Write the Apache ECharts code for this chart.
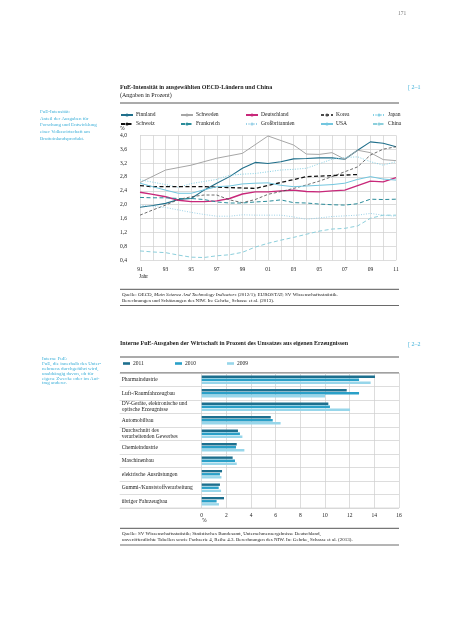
<!DOCTYPE html>
<html><head><meta charset="utf-8">
<script src="https://cdn.jsdelivr.net/npm/echarts@6/dist/echarts.min.js"></script>
<style>html,body{margin:0;padding:0;background:#fff}#c{width:453px;height:640px}</style>
</head><body><div id="c"></div>
<script>
const years = [1991,1992,1993,1994,1995,1996,1997,1998,1999,2000,2001,2002,2003,2004,2005,2006,2007,2008,2009,2010,2011];
const finnland = [1.93,1.98,2.04,2.15,2.18,2.42,2.62,2.81,3.05,3.22,3.19,3.24,3.32,3.33,3.35,3.35,3.31,3.57,3.81,3.77,3.67];
const schweden = [2.64,null,3.0,null,3.14,null,3.34,null,3.48,null,3.98,null,3.72,3.46,3.45,3.50,3.31,3.57,3.50,3.30,3.27];
const deutschland = [2.36,2.30,2.23,2.13,2.09,2.09,2.11,2.18,2.31,2.37,2.37,2.40,2.42,2.38,2.37,2.40,2.42,2.55,2.68,2.66,2.78];
const korea = [1.70,1.85,1.99,2.15,2.23,2.28,2.28,2.14,2.06,2.15,2.30,2.38,2.47,2.57,2.68,2.81,2.95,3.09,3.43,3.60,3.67];
const japan = [2.72,2.65,2.58,2.50,2.61,2.67,2.73,2.85,2.88,2.90,2.95,3.00,3.02,3.05,3.18,3.31,3.36,3.38,3.24,3.14,3.24];
const schweiz = [2.55,2.52,null,null,null,2.52,null,null,null,2.47,null,null,null,2.81,null,null,null,2.87,null,null,null];
const frankreich = [2.21,2.20,2.20,2.18,2.18,2.15,2.08,2.05,2.05,2.08,2.10,2.14,2.06,2.05,2.02,2.00,1.99,2.03,2.16,2.15,2.16];
const grossbritannien = [1.99,1.95,1.92,1.85,1.78,1.72,1.67,1.67,1.71,1.70,1.70,1.70,1.65,1.58,1.62,1.66,1.68,1.70,1.75,1.70,1.67];
const usa = [2.62,2.52,2.42,2.33,2.33,2.43,2.52,2.54,2.60,2.62,2.63,2.56,2.52,2.54,2.56,2.58,2.62,2.73,2.81,2.74,2.71];
const china = [0.67,0.64,0.62,0.55,0.49,0.48,0.53,0.56,0.63,0.78,0.89,0.98,1.06,1.15,1.24,1.30,1.32,1.39,1.61,1.70,1.70];

const categories = ['Pharmaindustrie','Luft-/Raumfahrzeugbau','DV-Geräte, elektronische und\noptische Erzeugnisse','Automobilbau','Durchschnitt des\nverarbeitenden Gewerbes','Chemieindustrie','Maschinenbau','elektrische Ausrüstungen','Gummi-/Kunststoffverarbeitung','übriger Fahrzeugbau'];
const v2011 = [14.05,11.76,10.27,5.6,2.94,2.84,2.51,1.65,1.48,1.81];
const v2010 = [12.76,12.76,10.4,5.76,3.1,2.78,2.7,1.48,1.38,1.21];
const v2009 = [13.7,10.0,12.03,6.4,3.3,3.46,2.84,1.6,1.57,1.4];

const FONT = '"Liberation Serif","Times New Roman",serif';
const pair = arr => years.map((y,i)=>[y,arr[i]]);

const lineDefs = [
  ['Finnland', finnland, '#1f6f8b', 'solid', 1.1],
  ['Schweden', schweden, '#a6a6a6', 'solid', 1.0],
  ['Deutschland', deutschland, '#c8287a', 'solid', 1.4],
  ['Korea', korea, '#4a4a4a', [3,2], 0.8],
  ['Japan', japan, '#86d0e4', [1,1.5], 1.0],
  ['Schweiz', schweiz, '#111111', [4,2.5], 1.3],
  ['Frankreich', frankreich, '#2a8c9a', [4,2.5], 1.0],
  ['Großbritannien', grossbritannien, '#9cd2e8', [1,1.5], 1.0],
  ['USA', usa, '#72c6df', 'solid', 1.0],
  ['China', china, '#8ccfdc', [4,2.5], 1.0]
];

const series = lineDefs.map(d => ({
  name: d[0], type: 'line', xAxisIndex: 0, yAxisIndex: 0,
  data: pair(d[1]), symbol: 'none', connectNulls: true, animation: false,
  lineStyle: {color: d[2], type: d[3], width: d[4]}, itemStyle: {color: d[2]}
}));

const barDefs = [['2011', v2011, '#1d6f8e'], ['2010', v2010, '#2aa0c8'], ['2009', v2009, '#97d6ea']];
barDefs.forEach(d => series.push({
  name: d[0], type: 'bar', xAxisIndex: 1, yAxisIndex: 1, data: d[1],
  barWidth: 2.4, barGap: '28%', animation: false, itemStyle: {color: d[2]}
}));

const txt = (t, x, y, o) => ({type:'text', x:x, y:y, silent:true,
  style: {text:t, font: (o&&o.font)||('5.5px '+FONT), fill:(o&&o.fill)||'#222', verticalAlign:'middle', align:(o&&o.align)||'left'}});
const rule = (x1,y,x2,w,c) => ({type:'line', silent:true, shape:{x1:x1,y1:y,x2:x2,y2:y}, style:{stroke:c||'#555', lineWidth:w||0.8}});

const noteC = '#3aaed8';
const legendCols1 = [[['Finnland','Schweiz'],120],[['Schweden','Frankreich'],180],[['Deutschland','Großbritannien'],245],[['Korea','USA'],320],[['Japan','China'],372]];
const legends = legendCols1.map(c => ({
  data: c[0], left: c[1], top: 112, orient: 'vertical', itemWidth: 12, itemHeight: 4, itemGap: 3,
  padding: 0, selectedMode: false, textStyle: {fontFamily: FONT, fontSize: 5.5, color: '#222', padding:[0,0,0,-2]}
}));
[['2011',123],['2010',175],['2009',227]].forEach(l => legends.push({
  data: [l[0]], left: l[1], top: 360.5, itemWidth: 7, itemHeight: 2.6, icon: 'rect', padding: 0, selectedMode: false,
  textStyle: {fontFamily: FONT, fontSize: 5.5, color: '#222', padding:[0,0,0,-2]}
}));

const noteF = '5px ' + FONT;
const option = {
  backgroundColor: '#fff',
  animation: false,
  legend: legends,
  grid: [
    {left: 140, top: 135.3, width: 256, height: 125},
    {left: 201.7, top: 373, width: 197.3, height: 135}
  ],
  xAxis: [
    {type: 'value', gridIndex: 0, min: 1991, max: 2011, interval: 1,
      axisLine: {show: false}, axisTick: {show: false},
      splitLine: {lineStyle: {color: '#cfcfcf', width: 0.7}},
      axisLabel: {fontFamily: FONT, fontSize: 5.5, color: '#222', margin: 6,
        formatter: v => (v % 2 === 1) ? String(v).slice(2) : ''}},
    {type: 'value', gridIndex: 1, min: 0, max: 16, interval: 2,
      axisLine: {show: false}, axisTick: {show: false},
      splitLine: {lineStyle: {color: '#cfcfcf', width: 0.7}},
      axisLabel: {fontFamily: FONT, fontSize: 5.5, color: '#222', margin: 5}}
  ],
  yAxis: [
    {type: 'value', gridIndex: 0, min: 0.4, max: 4.0, interval: 0.4,
      axisLine: {show: false}, axisTick: {show: false},
      splitLine: {lineStyle: {color: '#cfcfcf', width: 0.7}},
      axisLabel: {fontFamily: FONT, fontSize: 5.5, color: '#222', align: 'left', margin: 20,
        formatter: v => v.toFixed(1).replace('.', ',')}},
    {type: 'category', gridIndex: 1, data: categories, inverse: true,
      axisLine: {show: false},
      axisTick: {show: true, length: 82, lineStyle: {color: '#cfcfcf', width: 0.7}},
      splitLine: {show: true, lineStyle: {color: '#cfcfcf', width: 0.7}},
      axisLabel: {fontFamily: FONT, fontSize: 5.5, color: '#222', align: 'left', margin: 80, lineHeight: 6.5}}
  ],
  series: series,
  graphic: [
    txt('171', 398, 14, {fill:'#777'}),
    txt('FuE-Intensität in ausgewählten OECD-Ländern und China', 120, 87, {font:'bold 6px '+FONT}),
    txt('(Angaben in Prozent)', 120, 95.5, {font:'6px '+FONT}),
    txt('[ 2–1', 408, 87, {fill: noteC, font:'6px '+FONT}),
    rule(120, 103, 399, 0.9, '#444'),
    txt('FuE-Intensität:', 40, 111.6, {fill: noteC, font: noteF}),
    txt('Anteil der Ausgaben für', 40, 118.3, {fill: noteC, font: noteF}),
    txt('Forschung und Entwicklung', 40, 125, {fill: noteC, font: noteF}),
    txt('einer Volkswirtschaft am', 40, 131.7, {fill: noteC, font: noteF}),
    txt('Bruttoinlandsprodukt.', 40, 138.3, {fill: noteC, font: noteF}),
    txt('%', 120, 128.5),
    txt('Jahr', 139, 277),
    rule(120, 289.3, 399, 1.3, '#777'),
    {type:'text', x:122, y:294.7, silent:true, style:{rich:{i:{font:'italic 5px '+FONT, fill:'#222'}}, font:'5px '+FONT, fill:'#222', verticalAlign:'middle',
      text:'Quelle: OECD, {i|Main Science And Technology Indicators} (2012/1); EUROSTAT; SV Wissenschaftsstatistik.'}},
    txt('Berechnungen und Schätzungen des NIW. In: Gehrke, Schasse et al. (2013).', 122, 301, {font:'5px '+FONT}),
    rule(120, 305.5, 399, 0.8, '#444'),
    txt('Interne FuE-Ausgaben der Wirtschaft in Prozent des Umsatzes aus eigenen Erzeugnissen', 120, 343, {font:'bold 6px '+FONT}),
    txt('[ 2–2', 408, 344, {fill: noteC, font:'6px '+FONT}),
    rule(120, 357, 399, 0.9, '#444'),
    txt('Interne FuE:', 42, 359, {fill: noteC, font: noteF}),
    txt('FuE, die innerhalb des Unter-', 42, 363.8, {fill: noteC, font: noteF}),
    txt('nehmens durchgeführt wird,', 42, 368.6, {fill: noteC, font: noteF}),
    txt('unabhängig davon, ob für', 42, 373.4, {fill: noteC, font: noteF}),
    txt('eigene Zwecke oder im Auf-', 42, 378.2, {fill: noteC, font: noteF}),
    txt('trag anderer.', 42, 383, {fill: noteC, font: noteF}),
    rule(120, 373, 399, 1.1, '#444'),
    rule(120, 508, 399, 0.7, '#cfcfcf'),
    txt('%', 202, 520.5),
    rule(120, 528.3, 399, 1.3, '#777'),
    txt('Quelle: SV Wissenschaftsstatistik; Statistisches Bundesamt, Unternehmensergebnisse Deutschland,', 122, 534, {font:'5px '+FONT}),
    txt('unveröffentlichte Tabellen sowie Fachserie 4, Reihe 4.3. Berechnungen des NIW. In: Gehrke, Schasse et al. (2013).', 122, 540, {font:'5px '+FONT}),
    rule(120, 545, 399, 0.8, '#444')
  ]
};
const chart = echarts.init(document.getElementById('c'), null, {renderer: 'canvas'});
chart.setOption(option);
</script></body></html>
